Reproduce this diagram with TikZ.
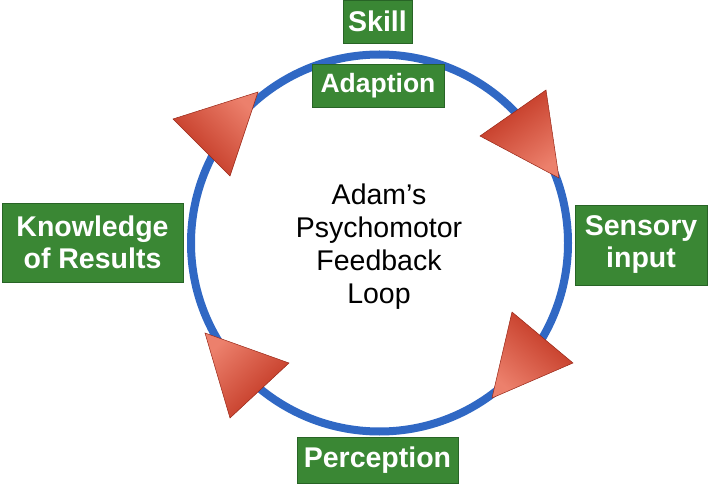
\documentclass[tikz,border=0pt]{standalone}
\usepackage{fontspec}
\setmainfont{Liberation Sans}
\definecolor{boxgreen}{RGB}{58,135,52}
\definecolor{boxedge}{RGB}{40,100,38}
\definecolor{loopblue}{RGB}{48,104,196}
\definecolor{reddark}{RGB}{190,48,28}
\definecolor{redlight}{RGB}{236,128,108}
\tikzset{
  lbl/.style={fill=boxgreen, draw=boxedge, line width=0.8pt, text=white, inner sep=0pt,
    align=center, font=\bfseries\fontsize{28.5}{32}\selectfont},
  arrowtri/.style={draw=reddark!80!black, line width=0.5pt, top color=redlight, bottom color=reddark},
}
\begin{document}
\begin{tikzpicture}[x=1pt,y=-1pt]
\useasboundingbox (0,0) rectangle (709,486);
% loop
\draw[loopblue, line width=8pt] (379.5,243) circle [radius=188.5];
% arrow heads
\path[arrowtri, shading angle=-45.5] (173,119) -- (258,92) -- (230,176) -- cycle;
\path[arrowtri, shading angle=-144.7] (480,136) -- (546,90) -- (559,178) -- cycle;
\path[arrowtri, shading angle=140] (512,312) -- (573,363) -- (492,398) -- cycle;
\path[arrowtri, shading angle=43.5] (205,333) -- (289,363) -- (230,418) -- cycle;
% labels
\node[lbl, minimum width=69, minimum height=43] (skill) at (377.5,21.5) {Skill};
\node[lbl, minimum width=132, minimum height=43, font=\bfseries\fontsize{26.5}{31}\selectfont] (adapt) at (378,86) {Adaption};
\node[lbl, minimum width=181, minimum height=79] (know) at (92.5,242.5) {Knowledge\\of Results};
\node[lbl, minimum width=132, minimum height=80] (sens) at (641,245) {Sensory\\input};
\node[lbl, minimum width=161, minimum height=46] (perc) at (377.5,460) {Perception};
% centre text
\node[align=center, inner sep=0pt, font=\fontsize{28.5}{33}\selectfont] (title) at (379,247)
  {Adam’s\\Psychomotor\\Feedback\\Loop};
\end{tikzpicture}
\end{document}
